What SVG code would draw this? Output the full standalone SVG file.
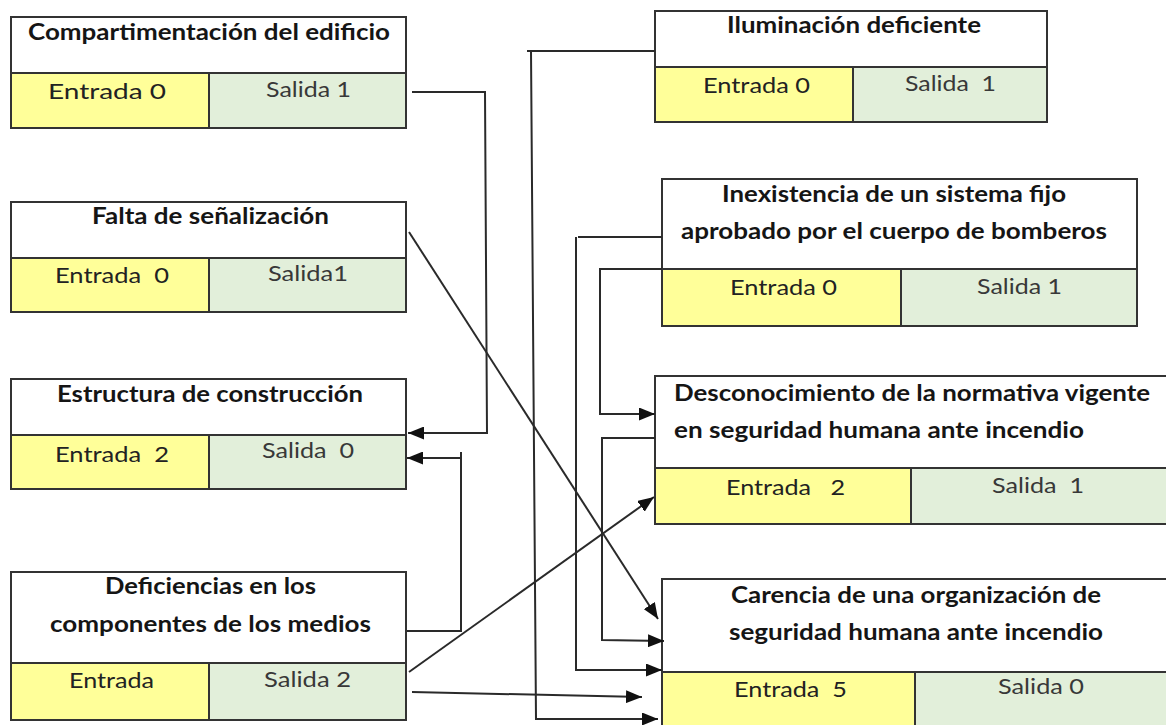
<svg xmlns="http://www.w3.org/2000/svg" width="1166" height="725" viewBox="0 0 1166 725">
<defs>
<marker id="arr" markerUnits="userSpaceOnUse" markerWidth="16" markerHeight="13" refX="16" refY="6.5" orient="auto">
<path d="M0,0 L16,6.5 L0,13 z" fill="#111"/>
</marker>
<style>
.top{fill:#fff;stroke:#333;stroke-width:2}
.in{fill:#ffff99;stroke:#333;stroke-width:2}
.out{fill:#e2efda;stroke:#333;stroke-width:2}
.t{font-family:Lato,"Liberation Sans",sans-serif;font-weight:bold;font-size:22px;fill:#151515;white-space:pre}
.c{font-family:Lato,"Liberation Sans",sans-serif;font-size:21px;fill:#222;white-space:pre}
.s{font-family:Lato,"Liberation Sans",sans-serif;font-size:21px;fill:#383838;white-space:pre}
.ln{fill:none;stroke:#2a2a2a;stroke-width:2}
</style>
</defs>
<rect width="1166" height="725" fill="#fff"/>

<g id="n1">
<rect class="top" x="11" y="17" width="395" height="56"/>
<rect class="in" x="11" y="73" width="198" height="55"/>
<rect class="out" x="209" y="73" width="197" height="55"/>
<text class="t" x="28" y="40" textLength="362" lengthAdjust="spacingAndGlyphs">Compartimentación del edificio</text>
<text class="c" x="48" y="99" textLength="118" lengthAdjust="spacingAndGlyphs">Entrada 0</text>
<text class="s" x="266" y="97" textLength="85" lengthAdjust="spacingAndGlyphs">Salida 1</text>
</g>

<g id="n2">
<rect class="top" x="11" y="202" width="395" height="56"/>
<rect class="in" x="11" y="258" width="198" height="54"/>
<rect class="out" x="209" y="258" width="197" height="54"/>
<text class="t" x="92" y="224" textLength="237" lengthAdjust="spacingAndGlyphs">Falta de señalización</text>
<text class="c" x="55" y="283" textLength="114" lengthAdjust="spacingAndGlyphs">Entrada  0</text>
<text class="s" x="268" y="281" textLength="80" lengthAdjust="spacingAndGlyphs">Salida1</text>
</g>

<g id="n3">
<rect class="top" x="11" y="379" width="395" height="56"/>
<rect class="in" x="11" y="435" width="198" height="54"/>
<rect class="out" x="209" y="435" width="197" height="54"/>
<text class="t" x="57" y="402" textLength="306" lengthAdjust="spacingAndGlyphs">Estructura de construcción</text>
<text class="c" x="55" y="462" textLength="114" lengthAdjust="spacingAndGlyphs">Entrada  2</text>
<text class="s" x="262" y="458" textLength="92" lengthAdjust="spacingAndGlyphs">Salida  0</text>
</g>

<g id="n4">
<rect class="top" x="11" y="572" width="395" height="91"/>
<rect class="in" x="11" y="663" width="198" height="57"/>
<rect class="out" x="209" y="663" width="197" height="57"/>
<text class="t" x="105" y="594" textLength="211" lengthAdjust="spacingAndGlyphs">Deficiencias en los</text>
<text class="t" x="50" y="632" textLength="321" lengthAdjust="spacingAndGlyphs">componentes de los medios</text>
<text class="c" x="69" y="688" textLength="85" lengthAdjust="spacingAndGlyphs">Entrada</text>
<text class="s" x="264" y="687" textLength="87" lengthAdjust="spacingAndGlyphs">Salida 2</text>
</g>

<g id="n5">
<rect class="top" x="655" y="11" width="392" height="56"/>
<rect class="in" x="655" y="67" width="198" height="55"/>
<rect class="out" x="853" y="67" width="194" height="55"/>
<text class="t" x="727" y="33" textLength="254" lengthAdjust="spacingAndGlyphs">Iluminación deficiente</text>
<text class="c" x="703" y="93" textLength="107" lengthAdjust="spacingAndGlyphs">Entrada 0</text>
<text class="s" x="905" y="91" textLength="91" lengthAdjust="spacingAndGlyphs">Salida  1</text>
</g>

<g id="n6">
<rect class="top" x="662" y="179" width="475" height="90"/>
<rect class="in" x="662" y="269" width="239" height="57"/>
<rect class="out" x="901" y="269" width="236" height="57"/>
<text class="t" x="722" y="202" textLength="344" lengthAdjust="spacingAndGlyphs">Inexistencia de un sistema fijo</text>
<text class="t" x="681" y="239" textLength="426" lengthAdjust="spacingAndGlyphs">aprobado por el cuerpo de bomberos</text>
<text class="c" x="730" y="295" textLength="107" lengthAdjust="spacingAndGlyphs">Entrada 0</text>
<text class="s" x="977" y="294" textLength="85" lengthAdjust="spacingAndGlyphs">Salida 1</text>
</g>

<g id="n7">
<rect class="top" x="655" y="376" width="520" height="92"/>
<rect class="in" x="655" y="468" width="256" height="56"/>
<rect class="out" x="911" y="468" width="264" height="56"/>
<text class="t" x="674" y="401" textLength="476" lengthAdjust="spacingAndGlyphs">Desconocimiento de la normativa vigente</text>
<text class="t" x="674" y="438" textLength="410" lengthAdjust="spacingAndGlyphs">en seguridad humana ante incendio</text>
<text class="c" x="726" y="495" textLength="119" lengthAdjust="spacingAndGlyphs">Entrada   2</text>
<text class="s" x="992" y="493" textLength="92" lengthAdjust="spacingAndGlyphs">Salida  1</text>
</g>

<g id="n8">
<rect class="top" x="662" y="579" width="513" height="93"/>
<rect class="in" x="662" y="672" width="253" height="63"/>
<rect class="out" x="915" y="672" width="260" height="63"/>
<text class="t" x="731" y="603" textLength="370" lengthAdjust="spacingAndGlyphs">Carencia de una organización de</text>
<text class="t" x="729" y="640" textLength="374" lengthAdjust="spacingAndGlyphs">seguridad humana ante incendio</text>
<text class="c" x="734" y="697" textLength="113" lengthAdjust="spacingAndGlyphs">Entrada  5</text>
<text class="s" x="998" y="694" textLength="86" lengthAdjust="spacingAndGlyphs">Salida 0</text>
</g>

<g id="connectors">
<path class="ln" d="M412,92 H485 L487,433 H408" marker-end="url(#arr)"/>
<path class="ln" d="M407,631 H461 V452 M461,458 H407" marker-end="url(#arr)"/>
<path class="ln" d="M409,232 L658,619" marker-end="url(#arr)"/>
<path class="ln" d="M409,672 L654,497" marker-end="url(#arr)"/>
<path class="ln" d="M412,692 L642,697" marker-end="url(#arr)"/>
<path class="ln" d="M655,51 H527 M531,51 L536,719 H658" marker-end="url(#arr)"/>
<path class="ln" d="M662,237 H578 M576,237 V670 H662" marker-end="url(#arr)"/>
<path class="ln" d="M662,269 H600 V414 H655" marker-end="url(#arr)"/>
<path class="ln" d="M655,438 H602 V640 L664,641" marker-end="url(#arr)"/>
</g>
</svg>
